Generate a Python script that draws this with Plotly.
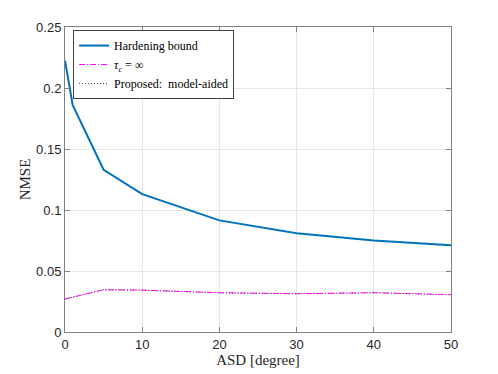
import plotly.graph_objects as go

asd = [0, 1, 5, 10, 20, 30, 40, 50]
hardening = [0.2224, 0.186, 0.1330, 0.1130, 0.0915, 0.0809, 0.0749, 0.0712]

asd_inf = [0, 5, 10, 20, 30, 40, 50]
tau_inf = [0.0270, 0.0346, 0.0343, 0.0322, 0.0314, 0.0322, 0.0306]
proposed = [0.0270, 0.0347, 0.0344, 0.0321, 0.0313, 0.0322, 0.0305]

x_ticks = [0, 10, 20, 30, 40, 50]
y_ticks = [0, 0.05, 0.1, 0.15, 0.2, 0.25]
y_labels = ["0", "0.05", "0.1", "0.15", "0.2", "0.25"]

SERIF = "Liberation Serif, serif"
SANS = "Liberation Sans, Arial, sans-serif"

fig = go.Figure()
fig.add_trace(go.Scatter(
    x=asd, y=hardening, mode="lines", name="Hardening bound", legendrank=1,
    line=dict(color="#0072BD", width=2),
))
# dotted curve sits under the magenta one, as in the reference
fig.add_trace(go.Scatter(
    x=asd_inf, y=proposed, mode="lines", name="Proposed:  model-aided", legendrank=3,
    line=dict(color="#333333", width=1, dash="1px,2px"),
))
fig.add_trace(go.Scatter(
    x=asd_inf, y=tau_inf, mode="lines", name="<i>τ<sub>c</sub></i> = ∞", legendrank=2,
    line=dict(color="#FF00FF", width=1, dash="6px,2px,1px,2px"),
))

axis_common = dict(
    showline=True, linecolor="#808080", linewidth=1, mirror="ticks",
    ticks="inside", ticklen=5, tickcolor="#808080",
    showgrid=True, gridcolor="#e6e6e6", gridwidth=1,
    zeroline=False, automargin=False,
    tickfont=dict(family=SANS, size=13, color="#262626"),
)

# the page body adds 8 px round the figure
fig.update_layout(
    width=498, height=374,
    paper_bgcolor="white", plot_bgcolor="white",
    margin=dict(l=57, r=55, t=19, b=50),
    xaxis=dict(
        **axis_common, range=[0, 50], tickvals=x_ticks,
        title=dict(text="ASD [degree]", font=dict(family=SERIF, size=15, color="#262626"), standoff=0),
    ),
    yaxis=dict(
        **axis_common, range=[0, 0.25], tickvals=y_ticks, ticktext=y_labels,
        title=dict(text="NMSE", font=dict(family=SERIF, size=15, color="#262626"), standoff=1),
    ),
    legend=dict(
        x=0.021, y=0.99, xanchor="left", yanchor="top",
        bgcolor="white", bordercolor="#404040", borderwidth=1,
        font=dict(family=SERIF, size=12, color="#000000"),
        tracegroupgap=0, itemwidth=30,
    ),
    showlegend=True,
)

fig.write_html("out.html")
